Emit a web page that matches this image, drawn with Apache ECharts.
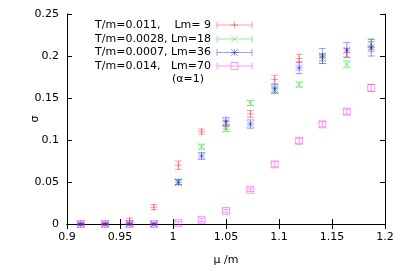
<!DOCTYPE html>
<html><head><meta charset="utf-8">
<script src="https://cdn.jsdelivr.net/npm/echarts@6/dist/echarts.min.js"></script>
<style>html,body{margin:0;padding:0;background:#fff}#c{width:407px;height:271px}</style>
</head><body><div id="c"></div>
<script>
const mu = [0.913, 0.936, 0.959, 0.982, 1.005, 1.027, 1.050, 1.073, 1.096, 1.119, 1.141, 1.164, 1.187];
const sigLm9  = [0, 0, 0.004, 0.020, 0.070, 0.110, 0.118, 0.131, 0.172, 0.197, 0.198, 0.204, 0.211];
const errLm9  = [0.001, 0.001, 0.003, 0.003, 0.005, 0.003, 0.005, 0.004, 0.005, 0.005, 0.004, 0.005, 0.006];
const sigLm18 = [0, 0, 0, 0, 0.050, 0.092, 0.113, 0.144, 0.159, 0.166, 0.197, 0.190, 0.214];
const errLm18 = [0.001, 0.001, 0.001, 0.001, 0.003, 0.003, 0.003, 0.003, 0.004, 0.003, 0.006, 0.004, 0.006];
const sigLm36 = [0, 0, 0, 0, 0.0496, 0.081, 0.122, 0.119, 0.161, 0.186, 0.200, 0.207, 0.210];
const errLm36 = [0.001, 0.001, 0.001, 0.001, 0.003, 0.004, 0.005, 0.005, 0.005, 0.007, 0.009, 0.009, 0.010];
const sigLm70 = [0, 0, 0, 0, 0.001, 0.005, 0.0155, 0.0407, 0.071, 0.099, 0.1186, 0.1337, 0.162];
const errLm70 = [0.001, 0.001, 0.001, 0.001, 0.002, 0.002, 0.002, 0.002, 0.003, 0.003, 0.003, 0.003, 0.004];
const legendLabels = ["T/m=0.011,    Lm= 9", "T/m=0.0028, Lm=18", "T/m=0.0007, Lm=36", "T/m=0.014,   Lm=70"];
const note = "(\u03b1=1)";

const colors = ['rgba(255,0,0,0.38)', 'rgba(0,210,0,0.42)', 'rgba(0,0,255,0.38)', 'rgba(255,0,255,0.40)'];
const markers = ['plus', 'cross', 'star', 'square'];
const M = 3.5; // marker half size
const C = 3.5; // cap half width

function markerShapes(kind, x, y, color) {
  const st = {stroke: color, lineWidth: 1, fill: null};
  const L = (x1,y1,x2,y2) => ({type:'line', shape:{x1,y1,x2,y2}, style:st, silent:true});
  if (kind === 'plus') return [L(x-M,y,x+M,y), L(x,y-M,x,y+M)];
  if (kind === 'cross') return [L(x-M,y-M,x+M,y+M), L(x-M,y+M,x+M,y-M)];
  if (kind === 'star') return [L(x-M,y-M,x+M,y+M), L(x-M,y+M,x+M,y-M), L(x-M,y,x+M,y), L(x,y-M,x,y+M)];
  return [{type:'rect', shape:{x:x-M, y:y-M, width:2*M, height:2*M}, style:st, silent:true}];
}

function makeSeries(idx, ys, es) {
  const data = mu.map((x, i) => [x, ys[i], es[i]]);
  return {
    type: 'custom', name: legendLabels[idx], data: data, z: 10 + idx,
    renderItem: function (params, api) {
      const x = api.value(0), y = api.value(1), e = api.value(2);
      const p = api.coord([x, y]);
      const pt = api.coord([x, y + e]);
      const pb = api.coord([x, y - e]);
      const col = colors[idx];
      const st = {stroke: col, lineWidth: 1};
      const ch = [
        {type:'line', shape:{x1:p[0], y1:pt[1], x2:p[0], y2:pb[1]}, style:st},
        {type:'line', shape:{x1:p[0]-C, y1:pt[1], x2:p[0]+C, y2:pt[1]}, style:st},
        {type:'line', shape:{x1:p[0]-C, y1:pb[1], x2:p[0]+C, y2:pb[1]}, style:st}
      ].concat(markerShapes(markers[idx], p[0], p[1], col));
      return {type:'group', children: ch};
    }
  };
}

const chart = echarts.init(document.getElementById('c'), null, {renderer: 'canvas'});
const FONT = 'DejaVu Sans';
const axisCommon = {
  axisLine: {show: true, lineStyle: {color: '#000', width: 1}},
  axisTick: {show: true, inside: true, length: 5, lineStyle: {color: '#000'}},
  splitLine: {show: false}
};

const legendGraphics = [];
const legY = [25, 39, 52.5, 66];
for (let i = 0; i < 4; i++) {
  const y = legY[i];
  const col = colors[i];
  legendGraphics.push({type:'text', x: 211, y: y, style:{text: legendLabels[i], font: '11px "DejaVu Sans"', fill:'#000', align:'right', verticalAlign:'middle'}});
  const st = {stroke: col, lineWidth: 1};
  legendGraphics.push({type:'line', shape:{x1:217, y1:y, x2:252, y2:y}, style:st});
  legendGraphics.push({type:'line', shape:{x1:217, y1:y-C, x2:217, y2:y+C}, style:st});
  legendGraphics.push({type:'line', shape:{x1:252, y1:y-C, x2:252, y2:y+C}, style:st});
  markerShapes(markers[i], 234.5, y, col).forEach(g => legendGraphics.push(g));
}
legendGraphics.push({type:'text', x: 188, y: 79.5, style:{text: note, font: '11px "DejaVu Sans"', fill:'#000', align:'center', verticalAlign:'middle'}});

chart.setOption({
  animation: false,
  textStyle: {fontFamily: FONT},
  grid: {left: 67, right: 22, top: 14, bottom: 43},
  xAxis: [
    Object.assign({type:'value', min:0.9, max:1.2, interval:0.05, position:'bottom',
      name:'\u03bc /m', nameLocation:'middle', nameGap: 31, nameMoveOverlap: false,
      nameTextStyle:{fontSize:11, color:'#000', fontFamily: FONT},
      axisLabel:{fontSize:11, color:'#000', margin: 8, fontFamily: FONT}}, axisCommon),
    Object.assign({type:'value', min:0.9, max:1.2, interval:0.05, position:'top', axisLabel:{show:false}}, axisCommon)
  ],
  yAxis: [
    Object.assign({type:'value', min:0, max:0.25, interval:0.05, position:'left',
      name:'\u03c3', nameLocation:'middle', nameGap: 26, nameMoveOverlap: false,
      nameTextStyle:{fontSize:11, color:'#000', fontFamily: FONT},
      axisLabel:{fontSize:11, color:'#000', margin: 8, fontFamily: FONT}}, axisCommon),
    Object.assign({type:'value', min:0, max:0.25, interval:0.05, position:'right', axisLabel:{show:false}}, axisCommon)
  ],
  series: [
    makeSeries(0, sigLm9, errLm9),
    makeSeries(1, sigLm18, errLm18),
    makeSeries(2, sigLm36, errLm36),
    makeSeries(3, sigLm70, errLm70)
  ],
  graphic: legendGraphics
});
</script></body></html>
